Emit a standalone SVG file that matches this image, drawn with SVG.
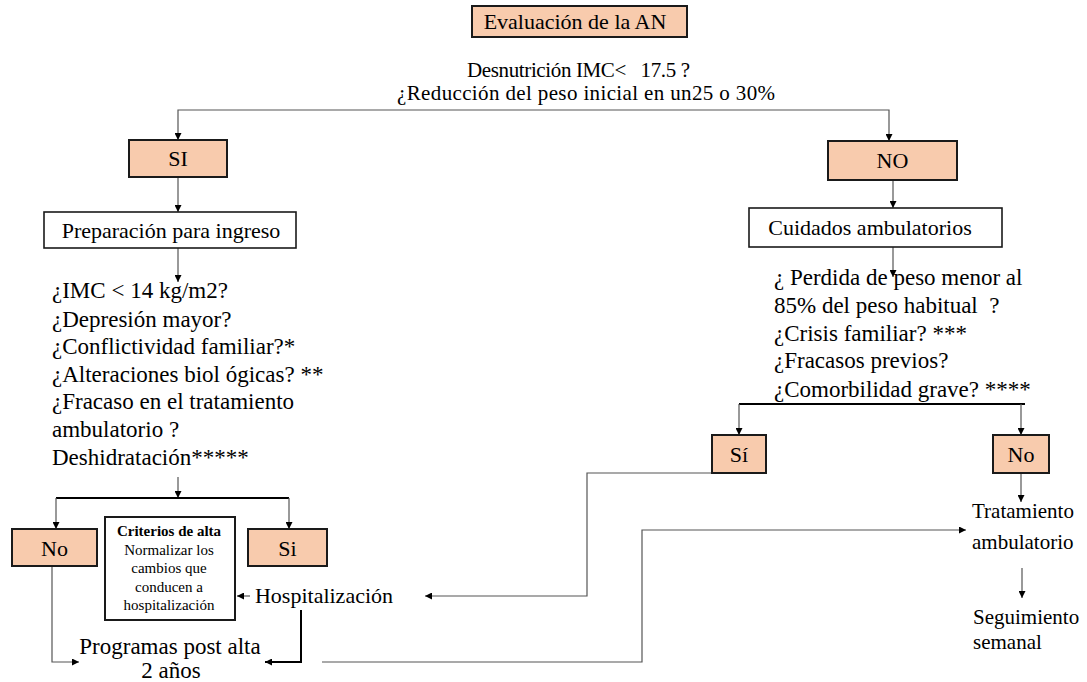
<svg xmlns="http://www.w3.org/2000/svg" width="1087" height="682" viewBox="0 0 1087 682">
  <style>
    text { font-family: "Liberation Serif", "Times New Roman", serif; fill: #000; }
    .peach { fill: #F8CBAD; stroke: #1a1a1a; stroke-width: 2; }
    .plain { fill: #fff; stroke: #1a1a1a; stroke-width: 1.6; }
    .thin { fill: none; stroke: #555; stroke-width: 1.2; }
    .bold { fill: none; stroke: #000; stroke-width: 2; }
    .lbl { font-size: 22px; text-anchor: middle; }
    .list { font-size: 23px; }
    .side { font-size: 21px; }
    .q { font-size: 21px; text-anchor: middle; }
    .small { font-size: 15px; text-anchor: middle; }
  </style>
  <defs>
    <marker id="arrow" viewBox="0 0 10 10" refX="10" refY="5" markerWidth="7" markerHeight="7" markerUnits="userSpaceOnUse" orient="auto">
      <path d="M0,0 L10,5 L0,10 z" fill="#000"/>
    </marker>
  </defs>

  <rect width="1087" height="682" fill="#fff"/>

  <!-- connectors -->
  <g id="connectors">
    <path class="thin" d="M533,110 H178 V140" marker-end="url(#arrow)"/>
    <path class="thin" d="M533,110 H889 V141" marker-end="url(#arrow)"/>
    <path class="thin" d="M178,177 V212" marker-end="url(#arrow)"/>
    <path class="thin" d="M178,248 V282" marker-end="url(#arrow)"/>
    <path class="thin" d="M178,477 V498" marker-end="url(#arrow)"/>
    <path class="bold" d="M56,498 H289"/>
    <path class="thin" d="M56,498 V529" marker-end="url(#arrow)"/>
    <path class="thin" d="M289,498 V529" marker-end="url(#arrow)"/>
    <path class="thin" d="M52,566 V662 H79" marker-end="url(#arrow)"/>
    <path class="bold" d="M301,610 V662 H265" marker-end="url(#arrow)"/>
    <path class="thin" d="M250,596 H237" marker-end="url(#arrow)"/>
    <path class="thin" d="M322,662 H642 V530 H966" marker-end="url(#arrow)"/>
    <path class="thin" d="M893,180 V208" marker-end="url(#arrow)"/>
    <path class="thin" d="M893,247 V277" marker-end="url(#arrow)"/>
    <path class="bold" d="M739,404 H1025"/>
    <path class="thin" d="M739,404 V435" marker-end="url(#arrow)"/>
    <path class="thin" d="M1021,404 V435" marker-end="url(#arrow)"/>
    <path class="thin" d="M749,473 H587 V596 H425" marker-end="url(#arrow)"/>
    <path class="thin" d="M1021,473 V502" marker-end="url(#arrow)"/>
    <path class="thin" d="M1022,568 V598" marker-end="url(#arrow)"/>
  </g>

  <g id="evaluacion">
    <rect class="peach" x="472" y="6" width="215" height="31"/>
    <text class="lbl" x="575" y="29">Evaluación de la AN</text>
  </g>

  <g id="pregunta">
    <text class="q" x="578.5" y="77" textLength="223" lengthAdjust="spacing" xml:space="preserve">Desnutrición IMC&lt;   17.5 ?</text>
    <text class="q" x="586" y="100" textLength="378" lengthAdjust="spacing">¿Reducción del peso inicial en un25 o 30%</text>
  </g>

  <g id="si">
    <rect class="peach" x="129" y="140" width="98" height="37"/>
    <text class="lbl" x="178" y="166">SI</text>
  </g>

  <g id="no">
    <rect class="peach" x="828" y="141" width="129" height="39"/>
    <text class="lbl" x="892.5" y="168">NO</text>
  </g>

  <g id="preparacion">
    <rect class="plain" x="44" y="212" width="252" height="36"/>
    <text class="lbl" x="171" y="238">Preparación para ingreso</text>
  </g>

  <g id="cuidados">
    <rect class="plain" x="749" y="208" width="253" height="39"/>
    <text class="lbl" x="870" y="235">Cuidados ambulatorios</text>
  </g>

  <g id="criterios-ingreso">
    <text class="list" x="52" y="298">¿IMC &lt; 14 kg/m2?</text>
    <text class="list" x="52" y="327">¿Depresión mayor?</text>
    <text class="list" x="52" y="354">¿Conflictividad familiar?*</text>
    <text class="list" x="52" y="382">¿Alteraciones biol ógicas? **</text>
    <text class="list" x="52" y="409">¿Fracaso en el tratamiento</text>
    <text class="list" x="52" y="437">ambulatorio ?</text>
    <text class="list" x="52" y="465">Deshidratación*****</text>
  </g>

  <g id="criterios-ambulatorio">
    <text class="list" x="774" y="285">¿ Perdida de peso menor al</text>
    <text class="list" x="774" y="313" xml:space="preserve">85% del peso habitual  ?</text>
    <text class="list" x="774" y="341">¿Crisis familiar? ***</text>
    <text class="list" x="774" y="368">¿Fracasos previos?</text>
    <text class="list" x="774" y="397">¿Comorbilidad grave? ****</text>
  </g>

  <g id="no-ingreso">
    <rect class="peach" x="12" y="529" width="85" height="37"/>
    <text class="lbl" x="54.5" y="556">No</text>
  </g>

  <g id="si-ingreso">
    <rect class="peach" x="248" y="529" width="79" height="37"/>
    <text class="lbl" x="287.5" y="556">Si</text>
  </g>

  <g id="criterios-alta">
    <rect class="plain" x="105" y="517" width="130" height="103" style="stroke-width:2"/>
    <text class="small" x="169" y="536" style="font-weight:bold">Criterios de alta</text>
    <text class="small" x="169" y="555">Normalizar los</text>
    <text class="small" x="169" y="573">cambios que</text>
    <text class="small" x="169" y="592">conducen a</text>
    <text class="small" x="169" y="610">hospitalización</text>
  </g>

  <g id="hospitalizacion">
    <text class="lbl" x="324" y="603">Hospitalización</text>
  </g>

  <g id="programas">
    <text class="list" x="170" y="654" style="text-anchor:middle">Programas post alta</text>
    <text class="list" x="171" y="678" style="text-anchor:middle">2 años</text>
  </g>

  <g id="si-amb">
    <rect class="peach" x="712" y="435" width="54" height="38"/>
    <text class="lbl" x="739" y="462">Sí</text>
  </g>

  <g id="no-amb">
    <rect class="peach" x="993" y="435" width="56" height="38"/>
    <text class="lbl" x="1021" y="462">No</text>
  </g>

  <g id="tratamiento">
    <text class="side" x="972" y="518">Tratamiento</text>
    <text class="side" x="972" y="549">ambulatorio</text>
  </g>

  <g id="seguimiento">
    <text class="side" x="973" y="624">Seguimiento</text>
    <text class="side" x="973" y="649">semanal</text>
  </g>
</svg>
